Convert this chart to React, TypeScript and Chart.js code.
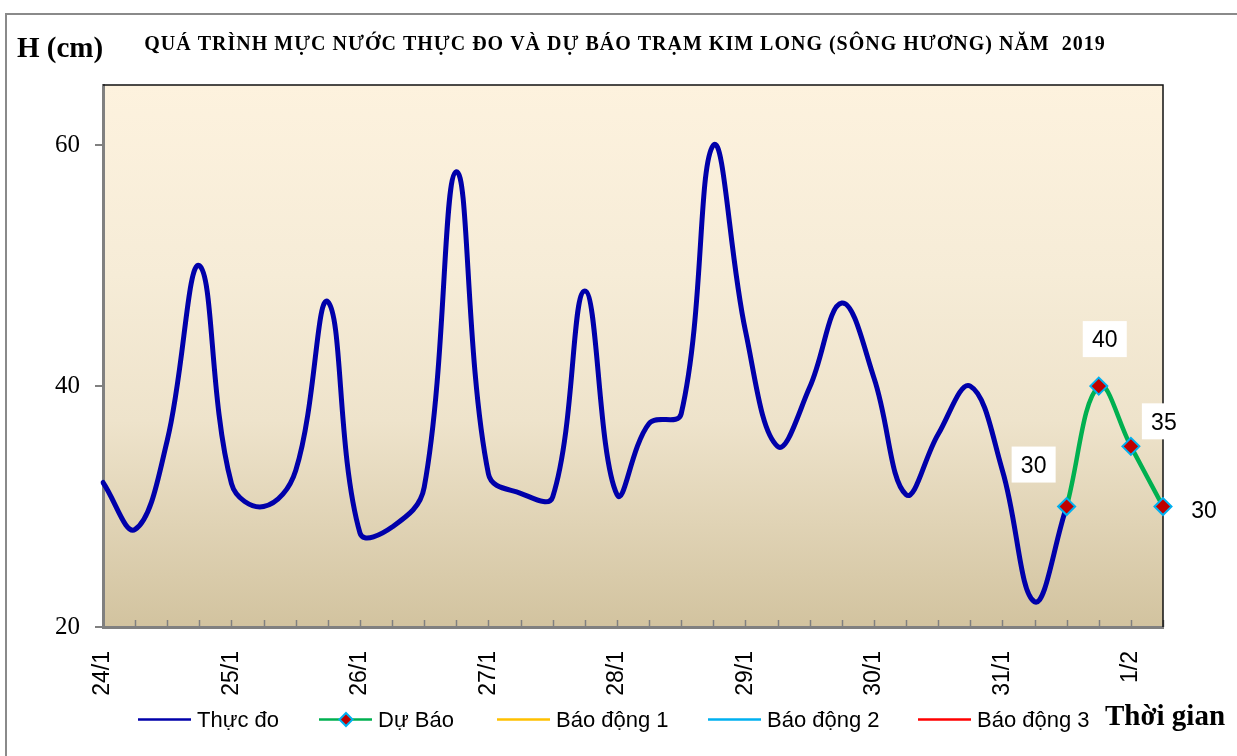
import React, { useEffect, useRef } from 'react';
import { Chart, registerables } from 'chart.js';

Chart.register(...registerables);

// ---- data ----
const categories = [
  '24/1', '', '', '',
  '25/1', '', '', '',
  '26/1', '', '', '',
  '27/1', '', '', '',
  '28/1', '', '', '',
  '29/1', '', '', '',
  '30/1', '', '', '',
  '31/1', '', '', '',
  '1/2', '',
];

const measured = [
  32, 28.1, 35.5, 50,
  31.9, 30, 33, 47,
  27.8, 28.3, 31.6, 57.8,
  32.7, 31.1, 30.8, 47.9,
  31, 36.9, 37.7, 60,
  44.6, 35, 39.9, 46.9,
  40.7, 31, 36, 40,
  33, 22.1, 30,
];

const forecast = [
  null, null, null, null, null, null, null, null, null, null,
  null, null, null, null, null, null, null, null, null, null,
  null, null, null, null, null, null, null, null, null, null,
  30, 40, 35, 30,
];

const alarm1: number[] = [];
const alarm2: number[] = [];
const alarm3: number[] = [];

const yTicks = [20, 40, 60];

const seriesNames = ['Thực đo', 'Dự Báo', 'Báo động 1', 'Báo động 2', 'Báo động 3'];

const TITLE = 'QUÁ TRÌNH MỰC NƯỚC THỰC ĐO VÀ DỰ BÁO TRẠM KIM LONG (SÔNG HƯƠNG) NĂM  2019';
const Y_TITLE = 'H (cm)';
const X_TITLE = 'Thời gian';

// ---- styles ----
const SERIF = '"Liberation Serif", "Times New Roman", serif';
const SANS = '"Liberation Sans", Arial, sans-serif';
const legendX = [138, 319, 497, 708, 918];
const labelOffsets = [[-33, -42], [6, -47], [33, -25], [41, 3]];

const decorPlugin = {
  id: 'decor',
  beforeDraw(chart: any) {
    const { ctx, chartArea: a, width, height } = chart;
    ctx.save();
    ctx.fillStyle = '#ffffff';
    ctx.fillRect(0, 0, width, height);
    // outer frame
    ctx.strokeStyle = '#8a8a8a';
    ctx.lineWidth = 2;
    ctx.beginPath();
    ctx.moveTo(6, height + 2);
    ctx.lineTo(6, 14);
    ctx.lineTo(width + 2, 14);
    ctx.stroke();
    // plot background gradient
    const g = ctx.createLinearGradient(0, a.top, 0, a.bottom);
    g.addColorStop(0, '#FDF2DE');
    g.addColorStop(0.35, '#F6ECD7');
    g.addColorStop(0.62, '#EEE3CB');
    g.addColorStop(1, '#D2C39F');
    ctx.fillStyle = g;
    ctx.fillRect(a.left, a.top, a.right - a.left, a.bottom - a.top);
    ctx.restore();
  },
  beforeDatasetsDraw(chart: any) {
    const { ctx, chartArea: a } = chart;
    const xs = chart.scales.x;
    ctx.save();
    // inner tick marks
    ctx.strokeStyle = '#808080';
    ctx.lineWidth = 1.5;
    for (let i = 1; i < categories.length; i++) {
      const x = Math.round(xs.getPixelForValue(i)) + 0.5;
      ctx.beginPath();
      ctx.moveTo(x, a.bottom);
      ctx.lineTo(x, a.bottom - 7);
      ctx.stroke();
    }
    // top & right border
    ctx.strokeStyle = '#111111';
    ctx.lineWidth = 1.5;
    ctx.beginPath();
    ctx.moveTo(a.left, a.top);
    ctx.lineTo(a.right, a.top);
    ctx.lineTo(a.right, a.bottom);
    ctx.stroke();
    ctx.restore();
  },
  afterDraw(chart: any) {
    const { ctx } = chart;
    ctx.save();
    ctx.fillStyle = '#000';
    // titles
    ctx.textBaseline = 'alphabetic';
    ctx.textAlign = 'center';
    ctx.font = `bold 20px ${SERIF}`;
    try { (ctx as any).letterSpacing = '1px'; } catch (e) { /* ignore */ }
    ctx.fillText(TITLE, 625, 50);
    try { (ctx as any).letterSpacing = '0px'; } catch (e) { /* ignore */ }
    ctx.textAlign = 'left';
    ctx.font = `bold 29px ${SERIF}`;
    ctx.fillText(Y_TITLE, 17, 57);
    ctx.fillText(X_TITLE, 1105, 725);

    // data labels for forecast
    const meta = chart.getDatasetMeta(1);
    let k = 0;
    ctx.font = `23px ${SANS}`;
    ctx.textAlign = 'center';
    ctx.textBaseline = 'middle';
    forecast.forEach((v, i) => {
      if (v === null) return;
      const el = meta.data[i];
      const off = labelOffsets[k++] || [0, -30];
      const cx = el.x + off[0];
      const cy = el.y + off[1];
      ctx.fillStyle = '#ffffff';
      ctx.fillRect(cx - 22, cy - 18, 44, 36);
      ctx.fillStyle = '#000';
      ctx.fillText(String(v), cx, cy + 2);
    });

    // legend
    ctx.textAlign = 'left';
    ctx.textBaseline = 'alphabetic';
    ctx.font = `22px ${SANS}`;
    chart.data.datasets.forEach((ds: any, i: number) => {
      const x0 = legendX[i];
      const y = 719.5;
      ctx.strokeStyle = ds.borderColor;
      ctx.lineWidth = 2.5;
      ctx.beginPath();
      ctx.moveTo(x0, y);
      ctx.lineTo(x0 + 53, y);
      ctx.stroke();
      if (i === 1) {
        const cx = x0 + 27;
        const r = 6.5;
        ctx.beginPath();
        ctx.moveTo(cx, y - r);
        ctx.lineTo(cx + r, y);
        ctx.lineTo(cx, y + r);
        ctx.lineTo(cx - r, y);
        ctx.closePath();
        ctx.fillStyle = '#C00000';
        ctx.fill();
        ctx.strokeStyle = '#00B0F0';
        ctx.lineWidth = 2;
        ctx.stroke();
      }
      ctx.fillStyle = '#000';
      ctx.fillText(ds.label, x0 + 59, 727);
    });
    ctx.restore();
  },
};

export default function App() {
  const ref = useRef<HTMLCanvasElement | null>(null);

  useEffect(() => {
    document.body.style.margin = '0';
    const canvas = ref.current;
    if (!canvas) return;
    const chart = new Chart(canvas, {
      type: 'line',
      data: {
        labels: categories,
        datasets: [
          {
            label: seriesNames[0],
            data: measured,
            borderColor: '#0000AA',
            borderWidth: 5,
            pointRadius: 0,
            tension: 0.4,
            borderCapStyle: 'round',
            borderJoinStyle: 'round',
            order: 1,
          },
          {
            label: seriesNames[1],
            data: forecast as any,
            borderColor: '#00B050',
            borderWidth: 4.5,
            tension: 0.4,
            pointStyle: 'rectRot',
            pointRadius: 8.5,
            pointHoverRadius: 8.5,
            pointBackgroundColor: '#C00000',
            pointBorderColor: '#00B0F0',
            pointBorderWidth: 2,
            order: 0,
          },
          { label: seriesNames[2], data: alarm1, borderColor: '#FFC000', borderWidth: 2, pointRadius: 0, order: 2 },
          { label: seriesNames[3], data: alarm2, borderColor: '#00B0F0', borderWidth: 2, pointRadius: 0, order: 3 },
          { label: seriesNames[4], data: alarm3, borderColor: '#FF0000', borderWidth: 2, pointRadius: 0, order: 4 },
        ],
      },
      options: {
        responsive: false,
        animation: false,
        layout: { padding: { top: 85, left: 0, right: 0, bottom: 0 } },
        plugins: {
          legend: { display: false },
          title: { display: false },
          tooltip: { enabled: false },
        },
        scales: {
          x: {
            type: 'category',
            offset: false,
            grid: { display: false, drawTicks: false },
            border: { display: true, color: '#808080', width: 3 },
            ticks: {
              autoSkip: false,
              maxRotation: 90,
              minRotation: 90,
              padding: 24,
              color: '#000',
              font: { family: SANS, size: 23 },
            },
            afterFit: (s: any) => { s.height = 129; },
          },
          y: {
            type: 'linear',
            position: 'left',
            min: 20,
            max: 65,
            afterBuildTicks: (s: any) => { s.ticks = yTicks.map((v) => ({ value: v })); },
            grid: { drawOnChartArea: false, drawTicks: true, tickLength: 8, color: '#808080', lineWidth: 2 },
            border: { display: true, color: '#808080', width: 3 },
            ticks: {
              color: '#000',
              padding: 15,
              font: { family: SERIF, size: 25 },
            },
            afterFit: (s: any) => { s.width = 103; },
          },
          yR: {
            type: 'linear',
            position: 'right',
            display: true,
            grid: { display: false, drawTicks: false },
            border: { display: false },
            ticks: { display: false },
            afterFit: (s: any) => { s.width = 74; },
          },
        },
      } as any,
      plugins: [decorPlugin],
    });
    return () => chart.destroy();
  }, []);

  return (
    <div style={{ width: 1237, height: 756, overflow: 'hidden' }}>
      <canvas ref={ref} width={1237} height={756} style={{ display: 'block' }} />
    </div>
  );
}
